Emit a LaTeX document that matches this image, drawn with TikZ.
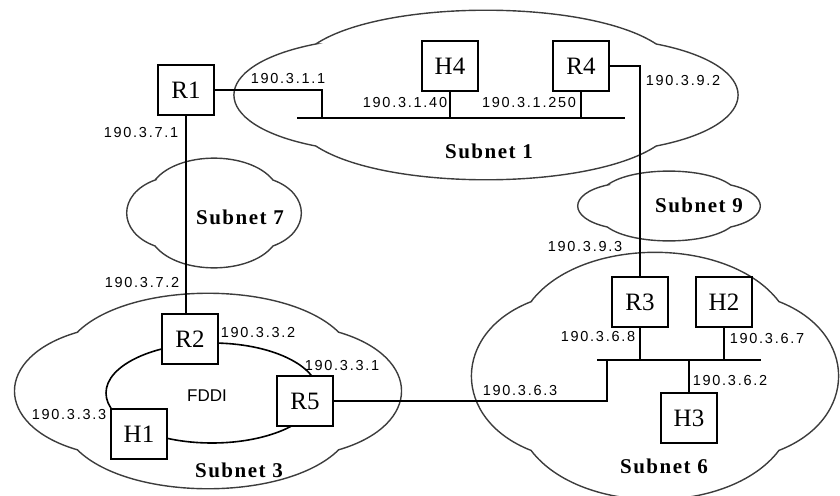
\documentclass[tikz,border=0pt]{standalone}
\usepackage{fontspec}
\setmainfont{Liberation Serif}
\setsansfont{Liberation Sans}
\newfontfamily\ipfont[LetterSpace=12]{Liberation Sans}
\newfontfamily\netfont[LetterSpace=7]{Liberation Serif}
\definecolor{cloud-gray}{RGB}{60,60,60}
\newcommand{\subnetcloud}[4]{%
  \draw[cloudline, shift={(#1,#2)}, xscale=#3, yscale=#4]
    (-0.67,-0.6) .. controls (-0.4,-1.13) and (0.4,-1.13) .. (0.67,-0.6)
    .. controls (1.1,-0.35) and (1.1,0.35) .. (0.67,0.6)
    .. controls (0.4,1.13) and (-0.4,1.13) .. (-0.67,0.6)
    .. controls (-1.1,0.35) and (-1.1,-0.35) .. cycle;}

\begin{document}
\begin{tikzpicture}[x=1pt,y=-1pt,
  box/.style={draw=black, fill=white, line width=2.1pt, minimum width=56pt, minimum height=50pt, inner sep=0pt, font=\fontsize{25}{25}\selectfont},
  cloudline/.style={draw=cloud-gray, line width=1.4pt},
  ip/.style={inner sep=0pt, font=\ipfont\fontsize{14.5}{15}\selectfont},
  netname/.style={inner sep=0pt, font=\netfont\bfseries\fontsize{21}{21}\selectfont},
  wire/.style={line width=2.3pt}]
\useasboundingbox (0,0) rectangle (840,495);

\subnetcloud{486}{95}{254}{85}
\subnetcloud{214}{213}{88}{55}
\subnetcloud{669}{206}{92}{35}
\subnetcloud{208}{391}{195}{98}
\subnetcloud{655}{376}{185}{124}

\draw[line width=1.6pt] (212,393) ellipse [x radius=106, y radius=50];

\coordinate (bus1w) at (297,118);
\coordinate (bus1e) at (625,118);
\coordinate (tap1) at (322,118);
\coordinate (bus6w) at (597,360);
\coordinate (bus6e) at (761,360);
\coordinate (tap6) at (607,360);

\node[box] (R1) at (186,90) {R1};
\node[box] (H4) at (450,66) {H4};
\node[box] (R4) at (581,66) {R4};
\node[box] (R2) at (190,339) {R2};
\node[box] (R5) at (305,401) {R5};
\node[box] (H1) at (139,434) {H1};
\node[box] (R3) at (640,302) {R3};
\node[box] (H2) at (724,302) {H2};
\node[box] (H3) at (689,418) {H3};

\draw[wire] (bus1w) -- (bus1e);
\draw[wire] (R1.east) -| (tap1);
\draw[wire] (H4.south) -- (H4.south |- bus1w);
\draw[wire] (R4.south) -- (R4.south |- bus1w);
\draw[wire] (R4.east) -| (R3.north);
\draw[wire] (R1.south) -- (R1.south |- R2.north);
\draw[wire] (bus6w) -- (bus6e);
\draw[wire] (R5.east) -| (tap6);
\draw[wire] (R3.south) -- (R3.south |- bus6w);
\draw[wire] (H2.south) -- (H2.south |- bus6w);
\draw[wire] (H3.north) -- (H3.north |- bus6w);

\node[ip] (ip-r1-s1) at (288,79) {190.3.1.1};
\node[ip] (ip-h4) at (405,103) {190.3.1.40};
\node[ip] (ip-r4-s1) at (529,103) {190.3.1.250};
\node[ip] (ip-r4-s9) at (683,81) {190.3.9.2};
\node[ip] (ip-r1-s7) at (141,133) {190.3.7.1};
\node[ip] (ip-r2-s7) at (142,283) {190.3.7.2};
\node[ip] (ip-r2-s3) at (258,333) {190.3.3.2};
\node[ip] (ip-r5-s3) at (342,366) {190.3.3.1};
\node[ip] (ip-h1) at (69,415) {190.3.3.3};
\node[ip] (ip-r3-s9) at (585,247) {190.3.9.3};
\node[ip] (ip-r3-s6) at (598,337) {190.3.6.8};
\node[ip] (ip-h2) at (767,339) {190.3.6.7};
\node[ip] (ip-h3) at (730,381) {190.3.6.2};
\node[ip] (ip-r5-s6) at (520,391) {190.3.6.3};

\node[inner sep=0pt, font=\sffamily\fontsize{17}{17}\selectfont] (fddi) at (207,396) {FDDI};
\node[netname] (name1) at (489,151) {Subnet 1};
\node[netname] (name7) at (240,217) {Subnet 7};
\node[netname] (name9) at (699,205) {Subnet 9};
\node[netname] (name3) at (239,470) {Subnet 3};
\node[netname] (name6) at (664,466) {Subnet 6};
\end{tikzpicture}
\end{document}
